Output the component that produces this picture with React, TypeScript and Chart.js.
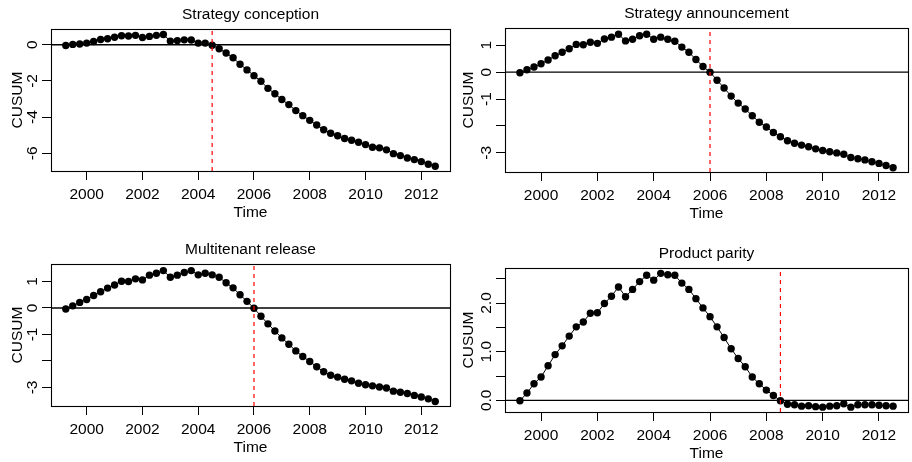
import React, { useEffect, useRef } from 'react';
import { Chart, registerables } from 'chart.js';

Chart.register(...registerables);

// ---------- data ----------
const times = [
  1999.25, 1999.5, 1999.75,
  2000, 2000.25, 2000.5, 2000.75,
  2001, 2001.25, 2001.5, 2001.75,
  2002, 2002.25, 2002.5, 2002.75,
  2003, 2003.25, 2003.5, 2003.75,
  2004, 2004.25, 2004.5, 2004.75,
  2005, 2005.25, 2005.5, 2005.75,
  2006, 2006.25, 2006.5, 2006.75,
  2007, 2007.25, 2007.5, 2007.75,
  2008, 2008.25, 2008.5, 2008.75,
  2009, 2009.25, 2009.5, 2009.75,
  2010, 2010.25, 2010.5, 2010.75,
  2011, 2011.25, 2011.5, 2011.75,
  2012, 2012.25, 2012.5,
];

const cusumConception = [
  -0.04, 0.02, 0.04, 0.09, 0.18, 0.29, 0.33, 0.41, 0.50, 0.48,
  0.52, 0.40, 0.46, 0.52, 0.57, 0.20, 0.23, 0.27, 0.26, 0.09,
  0.09, -0.03, -0.22, -0.46, -0.72, -1.08, -1.39, -1.71, -2.02, -2.41,
  -2.71, -3.03, -3.31, -3.64, -3.92, -4.18, -4.44, -4.70, -4.89, -5.03,
  -5.18, -5.28, -5.39, -5.52, -5.67, -5.70, -5.81, -6.02, -6.13, -6.26,
  -6.35, -6.46, -6.61, -6.72,
];

const cusumAnnouncement = [
  -0.02, 0.09, 0.19, 0.31, 0.45, 0.61, 0.74, 0.87, 1.03, 1.02,
  1.11, 1.07, 1.23, 1.30, 1.41, 1.16, 1.22, 1.35, 1.41, 1.22,
  1.30, 1.22, 1.15, 0.93, 0.74, 0.47, 0.21, 0.0, -0.30, -0.59,
  -0.89, -1.15, -1.37, -1.62, -1.86, -2.04, -2.24, -2.40, -2.55, -2.64,
  -2.71, -2.77, -2.85, -2.91, -2.96, -3.00, -3.05, -3.17, -3.22, -3.26,
  -3.33, -3.39, -3.47, -3.55,
];

const cusumMultitenant = [
  -0.04, 0.08, 0.21, 0.32, 0.47, 0.61, 0.75, 0.87, 1.01, 1.00,
  1.10, 1.06, 1.24, 1.31, 1.41, 1.16, 1.24, 1.34, 1.41, 1.25,
  1.31, 1.25, 1.16, 0.95, 0.76, 0.50, 0.25, -0.01, -0.31, -0.60,
  -0.87, -1.13, -1.37, -1.62, -1.83, -2.02, -2.22, -2.41, -2.54, -2.61,
  -2.69, -2.75, -2.84, -2.90, -2.94, -2.98, -3.02, -3.14, -3.18, -3.23,
  -3.30, -3.36, -3.43, -3.53,
];

const cusumParity = [
  -0.01, 0.15, 0.34, 0.48, 0.71, 0.94, 1.12, 1.32, 1.51, 1.61,
  1.79, 1.80, 1.99, 2.14, 2.33, 2.13, 2.28, 2.44, 2.57, 2.47,
  2.61, 2.58, 2.57, 2.41, 2.28, 2.09, 1.90, 1.72, 1.51, 1.29,
  1.06, 0.86, 0.69, 0.48, 0.34, 0.21, 0.10, -0.01, -0.08, -0.09,
  -0.12, -0.11, -0.13, -0.14, -0.12, -0.11, -0.07, -0.14, -0.09, -0.09,
  -0.09, -0.10, -0.11, -0.12,
];

const panelTitles = ['Strategy conception', 'Strategy announcement', 'Multitenant release', 'Product parity'];
const breakDates = [2004.5, 2006.0, 2006.0, 2008.5];

const xTickValues = [2000, 2002, 2004, 2006, 2008, 2010, 2012];
const xRange = [1998.72, 2013.03];

const yTicksConception = [0, -2, -4, -6];
const yLabelsConception = ['0', '-2', '-4', '-6'];
const yTicksAnnouncement = [1, 0, -1, -2, -3];
const yLabelsAnnouncement = ['1', '0', '-1', '', '-3'];
const yTicksMultitenant = [1, 0, -1, -2, -3];
const yLabelsMultitenant = ['1', '0', '-1', '', '-3'];
const yTicksParity = [0, 0.5, 1, 1.5, 2, 2.5];
const yLabelsParity = ['0.0', '', '1.0', '', '2.0', ''];

const yRangeConception = [-6.98, 0.87];
const yRangeAnnouncement = [-3.71, 1.64];
const yRangeMultitenant = [-3.70, 1.66];
const yRangeParity = [-0.24, 2.72];

// ---------- layout / style ----------
const FONT = '"Liberation Sans", Arial, Helvetica, sans-serif';
const FS = 15.5;
const W = 456;
const H = 231;

type Box = { left: number; top: number; right: number; bottom: number; cusumOff: number };

const panels = [
  { values: cusumConception, yTicks: yTicksConception, yLabels: yLabelsConception, yRange: yRangeConception,
    pos: [0, 0], box: { left: 51, top: 29, right: 450, bottom: 171, cusumOff: 29.5 } as Box },
  { values: cusumAnnouncement, yTicks: yTicksAnnouncement, yLabels: yLabelsAnnouncement, yRange: yRangeAnnouncement,
    pos: [456, 0], box: { left: 49, top: 28, right: 455, bottom: 172, cusumOff: 32 } as Box },
  { values: cusumMultitenant, yTicks: yTicksMultitenant, yLabels: yLabelsMultitenant, yRange: yRangeMultitenant,
    pos: [0, 231], box: { left: 51, top: 33, right: 450, bottom: 175, cusumOff: 29.5 } as Box },
  { values: cusumParity, yTicks: yTicksParity, yLabels: yLabelsParity, yRange: yRangeParity,
    pos: [456, 231], box: { left: 49, top: 37, right: 455, bottom: 181, cusumOff: 32 } as Box },
];

function Panel({ index }: { index: number }) {
  const ref = useRef<HTMLCanvasElement | null>(null);
  const p = panels[index];
  useEffect(() => {
    if (!ref.current) return;
    const box = p.box;
    const title = panelTitles[index];
    const brk = breakDates[index];
    const decor = {
      id: 'decor' + index,
      afterDraw(chart: any) {
        const { ctx, chartArea } = chart;
        const { left, top, right, bottom } = chartArea;
        ctx.save();
        ctx.strokeStyle = '#000';
        ctx.lineWidth = 1.1;
        ctx.strokeRect(left + 0.5, top + 0.5, right - left, bottom - top);
        ctx.fillStyle = '#000';
        ctx.font = `${FS}px ${FONT}`;
        ctx.textAlign = 'center';
        ctx.textBaseline = 'alphabetic';
        const cx = (left + right) / 2;
        ctx.fillText(title, cx, top - 10.5);
        ctx.fillText('Time', cx, bottom + 45.5);
        // CUSUM
        ctx.save();
        ctx.translate(left - box.cusumOff, (top + bottom) / 2);
        ctx.rotate(-Math.PI / 2);
        ctx.fillText('CUSUM', 0, 0);
        ctx.restore();
        // y tick labels
        const ys = chart.scales.y;
        p.yTicks.forEach((v: number, i: number) => {
          const lab = p.yLabels[i];
          if (!lab) return;
          const py = ys.getPixelForValue(v);
          ctx.save();
          ctx.translate(left - 14, py);
          ctx.rotate(-Math.PI / 2);
          ctx.fillText(lab, 0, 0);
          ctx.restore();
        });
        ctx.restore();
      },
    };
    const gridOpts = {
      display: true,
      drawOnChartArea: false,
      drawTicks: true,
      tickLength: 9,
      color: '#000',
      lineWidth: 1,
    };
    const chart = new Chart(ref.current, {
      type: 'line',
      data: {
        datasets: [
          {
            data: [{ x: brk, y: p.yRange[0] }, { x: brk, y: p.yRange[1] }],
            borderColor: '#FF0000',
            borderWidth: 1.2,
            borderDash: [4, 4],
            pointRadius: 0,
          },
          {
            data: [{ x: xRange[0], y: 0 }, { x: xRange[1], y: 0 }],
            borderColor: '#000',
            borderWidth: 1.3,
            pointRadius: 0,
          },
          {
            data: times.map((t, i) => ({ x: t, y: p.values[i] })),
            borderColor: '#000',
            borderWidth: 1,
            pointRadius: 3.7,
            pointBackgroundColor: '#000',
            pointBorderWidth: 0,
            tension: 0,
          },
        ],
      },
      options: {
        animation: false,
        responsive: false,
        devicePixelRatio: 1,
        events: [],
        layout: { padding: { top: box.top, right: W - box.right, left: 0, bottom: 0 } },
        plugins: {
          legend: { display: false },
          title: { display: false },
          tooltip: { enabled: false },
        },
        scales: {
          x: {
            type: 'linear',
            min: xRange[0],
            max: xRange[1],
            afterBuildTicks: (s: any) => { s.ticks = xTickValues.map((v) => ({ value: v })); },
            afterFit: (s: any) => { s.height = H - box.bottom; },
            grid: gridOpts,
            border: { display: false },
            ticks: {
              autoSkip: false,
              maxRotation: 0,
              minRotation: 0,
              padding: 5,
              color: '#000',
              font: { family: FONT, size: FS },
              callback: (v: any) => String(v),
            },
          },
          y: {
            type: 'linear',
            min: p.yRange[0],
            max: p.yRange[1],
            afterBuildTicks: (s: any) => { s.ticks = p.yTicks.map((v) => ({ value: v })); },
            afterFit: (s: any) => { s.width = box.left; },
            grid: gridOpts,
            border: { display: false },
            ticks: { display: false },
          },
        },
      } as any,
      plugins: [decor],
    });
    return () => chart.destroy();
  }, []);
  return (
    <canvas
      ref={ref}
      width={W}
      height={H}
      style={{ position: 'absolute', left: p.pos[0], top: p.pos[1], width: W, height: H, display: 'block' }}
    />
  );
}

export default function App() {
  return (
    <div style={{ position: 'absolute', left: 0, top: 0, width: 912, height: 462, background: '#fff' }}>
      {panels.map((_, i) => (
        <Panel key={i} index={i} />
      ))}
    </div>
  );
}
